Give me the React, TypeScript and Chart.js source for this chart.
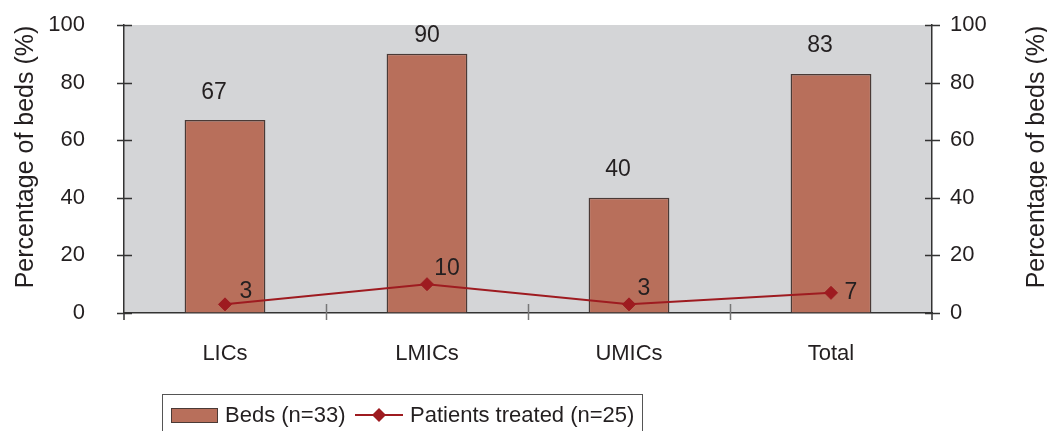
import React, { useEffect, useRef } from "react";
import { Chart, registerables } from "chart.js";

Chart.register(...registerables);

const categories = ["LICs", "LMICs", "UMICs", "Total"];
const bedsValues = [67, 90, 40, 83];
const patientsValues = [3, 10, 3, 7];
const yTicks = [0, 20, 40, 60, 80, 100];
const bedsLabel = "Beds (n=33)";
const patientsLabel = "Patients treated (n=25)";
const axisTitle = "Percentage of beds (%)";

const barLabelOffsets = [
  [-11, -27],
  [0, -18],
  [-11, -28],
  [-11, -28],
];
const lineLabelOffsets = [
  [21, -13],
  [20, -16],
  [15, -16],
  [20, 0],
];

const FONT = "'Liberation Sans', Arial, Helvetica, sans-serif";
const TEXT = "#231f20";
const BAR_FILL = "#b86f5b";
const BAR_BORDER = "#4a3a36";
const LINE_COLOR = "#9e1b20";
const PLOT_BG = "#d4d5d7";

const drawDiamond = (ctx: CanvasRenderingContext2D, x: number, y: number, r: number) => {
  ctx.beginPath();
  ctx.moveTo(x, y - r);
  ctx.lineTo(x + r, y);
  ctx.lineTo(x, y + r);
  ctx.lineTo(x - r, y);
  ctx.closePath();
  ctx.fill();
};

const decorPlugin = {
  id: "decor",
  beforeDraw(chart: any) {
    const { ctx, chartArea } = chart;
    ctx.save();
    ctx.fillStyle = PLOT_BG;
    ctx.fillRect(chartArea.left, chartArea.top, chartArea.right - chartArea.left, chartArea.bottom - chartArea.top);
    ctx.restore();
  },
  afterDraw(chart: any) {
    const { ctx, chartArea } = chart;
    const xs = chart.scales.x;
    const ys = chart.scales.y;
    ctx.save();

    // axis tick marks crossing the y axes
    ctx.strokeStyle = "#333";
    ctx.lineWidth = 1.5;
    yTicks.forEach((v) => {
      const py = Math.round(ys.getPixelForValue(v)) + 0.5;
      ctx.beginPath();
      ctx.moveTo(chartArea.left - 7, py);
      ctx.lineTo(chartArea.left + 8, py);
      ctx.moveTo(chartArea.right - 7, py);
      ctx.lineTo(chartArea.right + 8, py);
      ctx.stroke();
    });
    // y axis extensions below x axis
    ctx.beginPath();
    ctx.moveTo(chartArea.left, chartArea.bottom);
    ctx.lineTo(chartArea.left, chartArea.bottom + 7);
    ctx.moveTo(chartArea.right, chartArea.bottom);
    ctx.lineTo(chartArea.right, chartArea.bottom + 7);
    ctx.stroke();

    // category separators on x axis
    ctx.strokeStyle = "#777";
    for (let i = 0; i < categories.length - 1; i++) {
      const px = Math.round((xs.getPixelForValue(i) + xs.getPixelForValue(i + 1)) / 2) + 0.5;
      ctx.beginPath();
      ctx.moveTo(px, chartArea.bottom - 9);
      ctx.lineTo(px, chartArea.bottom + 7);
      ctx.stroke();
    }

    // data labels
    ctx.fillStyle = TEXT;
    ctx.font = `23px ${FONT}`;
    ctx.textAlign = "center";
    ctx.textBaseline = "middle";
    const barMeta = chart.getDatasetMeta(0);
    barMeta.data.forEach((el: any, i: number) => {
      const [dx, dy] = barLabelOffsets[i];
      ctx.fillText(String(bedsValues[i]), el.x + dx, el.y + dy);
    });
    const lineMeta = chart.getDatasetMeta(1);
    lineMeta.data.forEach((el: any, i: number) => {
      const [dx, dy] = lineLabelOffsets[i];
      ctx.fillText(String(patientsValues[i]), el.x + dx, el.y + dy);
    });

    // axis titles
    ctx.font = `25px ${FONT}`;
    const titleY = 157;
    [26, 1037].forEach((tx) => {
      ctx.save();
      ctx.translate(tx, titleY);
      ctx.rotate(-Math.PI / 2);
      ctx.fillText(axisTitle, 0, 0);
      ctx.restore();
    });

    // legend
    ctx.strokeStyle = "#555";
    ctx.lineWidth = 1;
    ctx.strokeRect(162.5, 394.5, 480, 60);
    ctx.fillStyle = BAR_FILL;
    ctx.fillRect(171, 408, 47, 15);
    ctx.strokeStyle = BAR_BORDER;
    ctx.strokeRect(171.5, 408.5, 46, 14);
    ctx.strokeStyle = LINE_COLOR;
    ctx.lineWidth = 2;
    ctx.beginPath();
    ctx.moveTo(355, 415);
    ctx.lineTo(403, 415);
    ctx.stroke();
    ctx.fillStyle = LINE_COLOR;
    drawDiamond(ctx, 379, 415, 7);
    ctx.fillStyle = TEXT;
    ctx.font = `22px ${FONT}`;
    ctx.textAlign = "left";
    ctx.fillText(bedsLabel, 225, 416);
    ctx.fillText(patientsLabel, 410, 416);

    ctx.restore();
  },
};

export default function App() {
  const canvasRef = useRef<HTMLCanvasElement | null>(null);

  useEffect(() => {
    if (!canvasRef.current) return;
    const hiddenTickGrid = (len: number) => ({
      display: true,
      drawOnChartArea: false,
      drawTicks: true,
      tickLength: len,
      tickColor: "rgba(0,0,0,0)",
      color: "rgba(0,0,0,0)",
    });
    const chart = new Chart(canvasRef.current, {
      type: "bar",
      data: {
        labels: categories,
        datasets: [
          {
            type: "bar",
            label: bedsLabel,
            data: bedsValues,
            backgroundColor: BAR_FILL,
            borderColor: BAR_BORDER,
            borderWidth: 1.5,
            categoryPercentage: 1,
            barPercentage: 0.4,
            order: 1,
            yAxisID: "y",
          },
          {
            type: "line",
            label: patientsLabel,
            data: patientsValues,
            borderColor: LINE_COLOR,
            backgroundColor: LINE_COLOR,
            borderWidth: 2,
            pointStyle: "rectRot",
            pointRadius: 6.5,
            pointBorderWidth: 1,
            pointBackgroundColor: LINE_COLOR,
            pointBorderColor: LINE_COLOR,
            tension: 0,
            order: 0,
            yAxisID: "y",
          },
        ],
      },
      options: {
        responsive: false,
        animation: false,
        devicePixelRatio: 1,
        layout: { padding: { top: 25, left: 0, right: 0, bottom: 0 } },
        plugins: {
          legend: { display: false },
          tooltip: { enabled: false },
          title: { display: false },
        },
        scales: {
          x: {
            type: "category",
            offset: true,
            grid: { display: false, drawTicks: false },
            border: { display: true, color: "#333", width: 1.5 },
            ticks: {
              color: TEXT,
              font: { family: FONT, size: 22 },
              padding: 28,
              maxRotation: 0,
            },
            afterFit: (s: any) => {
              s.height = 118;
            },
          },
          y: {
            position: "left",
            min: 0,
            max: 100,
            grid: hiddenTickGrid(39),
            border: { display: true, color: "#333", width: 1.5 },
            ticks: {
              stepSize: 20,
              autoSkip: false,
              color: TEXT,
              font: { family: FONT, size: 22 },
              padding: 0,
            },
            afterFit: (s: any) => {
              s.width = 124;
            },
          },
          y1: {
            position: "right",
            min: 0,
            max: 100,
            grid: hiddenTickGrid(18),
            border: { display: true, color: "#333", width: 1.5 },
            ticks: {
              stepSize: 20,
              autoSkip: false,
              color: TEXT,
              font: { family: FONT, size: 22 },
              padding: 0,
            },
            afterFit: (s: any) => {
              s.width = 115;
            },
          },
        },
      },
      plugins: [decorPlugin],
    });
    return () => chart.destroy();
  }, []);

  return (
    <div style={{ position: "fixed", left: 0, top: 0, width: 1047, height: 431, background: "#fff" }}>
      <canvas ref={canvasRef} width={1047} height={431} style={{ display: "block" }} />
    </div>
  );
}
